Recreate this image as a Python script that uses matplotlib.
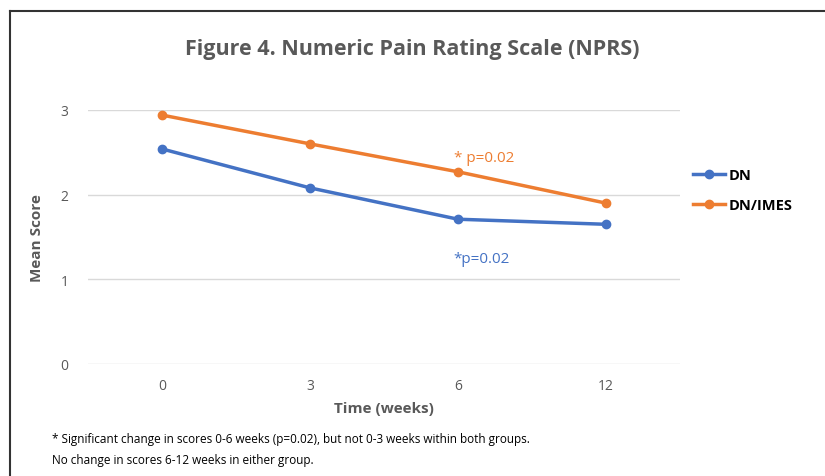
import matplotlib.pyplot as plt
from matplotlib.lines import Line2D

weeks = ['0', '3', '6', '12']
dn = [2.54, 2.08, 1.71, 1.65]
dn_imes = [2.94, 2.60, 2.27, 1.90]

blue = '#4472C4'
orange = '#ED7D31'
gray = '#595959'
font = 'Open Sans'

fig = plt.figure(figsize=(8.25, 4.77), dpi=100)
ax = fig.add_axes([88 / 825, 1 - 365 / 477, 592 / 825, 254 / 477])

x = range(len(weeks))
ax.plot(x, dn, color=blue, lw=2.5, marker='o', ms=6, label='DN', clip_on=False)
ax.plot(x, dn_imes, color=orange, lw=2.5, marker='o', ms=6, label='DN/IMES', clip_on=False)

ax.set_xlim(-0.5, 3.5)
ax.set_ylim(0, 3)
ax.set_yticks([0, 1, 2, 3])
ax.set_xticks(list(x))
ax.set_xticklabels(weeks)
ax.grid(axis='y', color='#D9D9D9', lw=1)
ax.set_axisbelow(True)
for s in ax.spines.values():
    s.set_visible(False)
ax.tick_params(length=0, labelsize=10, labelcolor=gray, pad=10)
ax.tick_params(axis='y', pad=14)
for lab in ax.get_xticklabels() + ax.get_yticklabels():
    lab.set_fontfamily(font)

ax.set_xlabel('Time (weeks)', fontsize=11, fontweight='bold', color=gray, family=font, labelpad=6)
ax.set_ylabel('Mean Score', fontsize=11, fontweight='bold', color=gray, family=font, labelpad=12)

ax.text(1.97, dn_imes[2] + 0.13, '* p=0.02', color=orange, fontsize=11, family=font)
ax.text(1.97, dn[2] - 0.5, '*p=0.02', color=blue, fontsize=11, family=font)

fig.text(0.5, 0.897, 'Figure 4. Numeric Pain Rating Scale (NPRS)', ha='center', va='center',
         fontsize=15.5, fontweight='bold', color=gray, family=font)

leg = fig.legend(handles=[Line2D([], [], color=blue, lw=2.5, marker='o', ms=6),
                          Line2D([], [], color=orange, lw=2.5, marker='o', ms=6)],
                 labels=['DN', 'DN/IMES'], loc='upper left', bbox_to_anchor=(680 / 825, 1 - 156 / 477),
                 frameon=False, handlelength=2.2, handletextpad=0.2, labelspacing=1.1,
                 prop={'family': font, 'weight': 'bold', 'size': 10.5})

fig.text(52 / 825, 1 - 440 / 477, '* Significant change in scores 0-6 weeks (p=0.02), but not 0-3 weeks within both groups.',
         fontsize=8.5, family=font, va='center')
fig.text(52 / 825, 1 - 461 / 477, 'No change in scores 6-12 weeks in either group.',
         fontsize=8.5, family=font, va='center')

# frame lines
fig.add_artist(Line2D([10 / 825, 10 / 825], [0, 1 - 12 / 477], color='#333333', lw=1.5))
fig.add_artist(Line2D([10 / 825, 1], [1 - 12 / 477, 1 - 12 / 477], color='#333333', lw=1.5))

fig.savefig('out.png', dpi=100)
